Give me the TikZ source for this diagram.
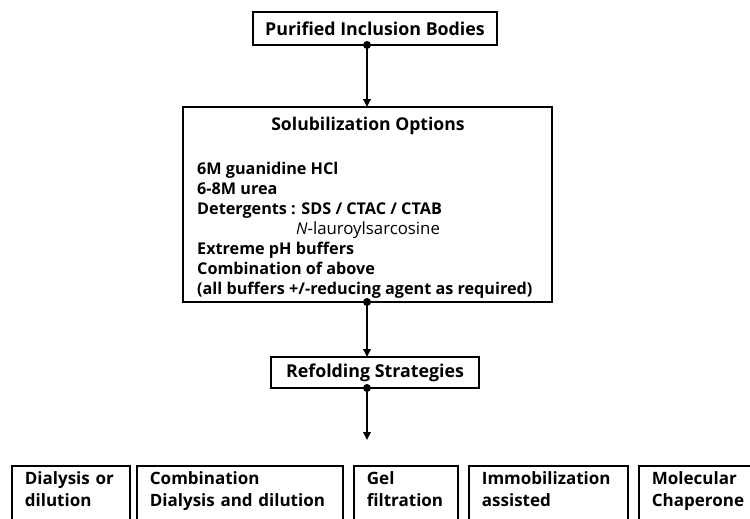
\documentclass[tikz,border=0pt]{standalone}
\usepackage{fontspec}
\setmainfont{Open Sans}
\usetikzlibrary{arrows.meta}
\tikzset{
  box/.style={draw, line width=1.8pt, rectangle, font=\bfseries\fontsize{17.8}{20}\selectfont},
  flow/.style={line width=1.8pt, -{Triangle[length=8pt,width=7.5pt]}},
  dot/.style={circle, fill, inner sep=0pt, minimum size=8pt},
  opt/.style={draw, line width=1.8pt, anchor=north west, align=left, inner xsep=13pt, inner ysep=0pt,
    text height=19pt, text depth=60pt, font=\bfseries\fontsize{17}{22}\selectfont},
}
\begin{document}
\begin{tikzpicture}[x=1pt,y=1pt]
\useasboundingbox (0,0) rectangle (750,-519);
\clip (0,0) rectangle (750,-519);
% top
\node[box, minimum width=244pt, minimum height=33pt] (pib) at (375,-28.5) {Purified Inclusion Bodies};
% solubilization
\node[box, minimum width=369pt, minimum height=195pt] (sol) at (367.5,-204.5) {};
\node[font=\bfseries\fontsize{17.6}{20}\selectfont] (solt) at (368,-126) {Solubilization Options};
\node[anchor=north west, align=left, inner sep=0pt, font=\bfseries\fontsize{16.2}{20}\selectfont] (solb) at (197,-162)
{6M guanidine HCl\\
6-8M urea\\
Detergents : SDS / CTAC / CTAB\\
\hspace*{99pt}{\normalfont\itshape N}{\normalfont\fontsize{16.8}{20}\selectfont -lauroylsarcosine}\\
Extreme pH buffers\\
Combination of above\\
(all buffers +/-reducing agent as required)};
% refolding
\node[box, minimum width=208pt, minimum height=31pt] (ref) at (375,-372.5) {Refolding Strategies};
\coordinate (end) at (367,-440);
% connectors
\coordinate (s1) at (367,-45);
\coordinate (s2) at (367,-302);
\coordinate (s3) at (367,-388);
\draw[flow] (s1) -- (367,-107);
\draw[flow] (s2) -- (367,-357);
\draw[flow] (s3) -- (end);
\node[dot] (d1) at (s1) {};
\node[dot] (d2) at (s2) {};
\node[dot] (d3) at (s3) {};
% options
\node[opt, text width=92pt] (o1) at (11,-465) {Dialysis or\\dilution};
\node[opt, text width=180pt] (o2) at (136,-465) {Combination\\Dialysis and dilution};
\node[opt, text width=78pt] (o3) at (353,-465) {Gel\\filtration};
\node[opt, text width=133pt] (o4) at (468,-465) {Immobilization\\assisted};
\node[opt, text width=120pt] (o5) at (638,-465) {Molecular\\Chaperone};
\end{tikzpicture}
\end{document}
